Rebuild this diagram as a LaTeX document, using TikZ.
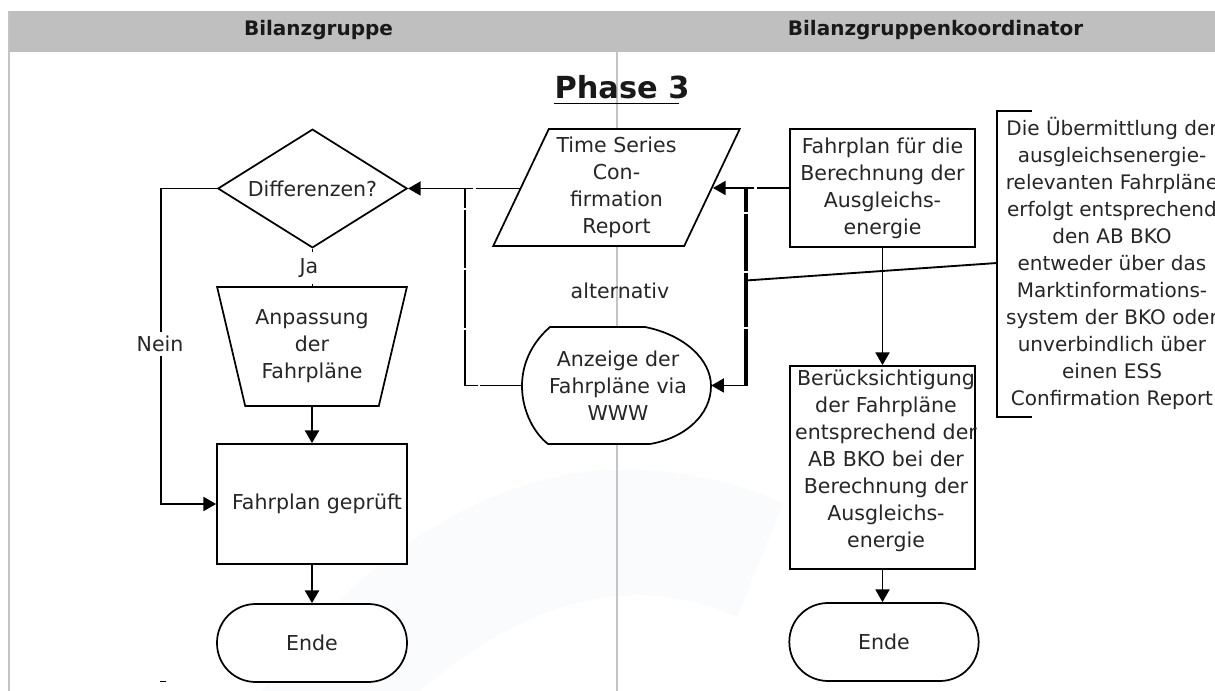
\documentclass[tikz,border=0pt]{standalone}
\usepackage{fontspec}
\setmainfont{DejaVu Sans}
\usetikzlibrary{shapes.geometric,arrows.meta}
\definecolor{band}{HTML}{BFBFBF}
\definecolor{rule}{HTML}{C4C4C4}
\definecolor{ghost}{HTML}{FAFBFC}
\tikzset{
  x=0.75pt,y=-0.75pt,
  txt/.style={font=\fontsize{15.4}{20.25}\selectfont,text=black!85,align=center,inner sep=0pt},
  shp/.style={draw=black,line width=1.3pt,fill=white,inner sep=0pt,font=\fontsize{15.4}{20.25}\selectfont,text=black!85,align=center},
  flow/.style={draw=black,line width=1.4pt,-{Triangle[length=9.5pt,width=10.5pt]}},
  plain/.style={draw=black,line width=1.4pt},
  hdr/.style={font=\bfseries\fontsize{15}{18}\selectfont,text=black!90,inner sep=0pt},
}
\begin{document}
\begin{tikzpicture}
\useasboundingbox (0,0) rectangle (1215,691);
\fill[white] (0,0) rectangle (1215,691);
% watermark
\fill[ghost] (262,691) .. controls (330,590) and (470,470) .. (617,470) .. controls (680,468) and (735,482) .. (783,503) -- (737,617) .. controls (700,600) and (660,594) .. (633,595) .. controls (550,598) and (480,640) .. (420,691) -- cycle;
% swimlanes
\fill[band] (8,11) rectangle (1215,52);
\draw[rule,line width=1.5pt] (8.5,11) -- (8.5,691);
\draw[rule,line width=1.2pt] (617,52) -- (617,691);
\node[hdr] (h1) at (318.5,30) {Bilanzgruppe};
\node[hdr] (h2) at (935.5,30) {Bilanzgruppenkoordinator};
\node[font=\bfseries\fontsize{22.8}{26}\selectfont,text=black!90,inner sep=0pt] (title) at (622,87) {Phase 3};
\draw[black,line width=1.4pt] (554,103.5) -- (679,103.5);

% left column
\node[shp,diamond,minimum width=142pt,minimum height=89pt,aspect=1.6] (diff) at (312.5,188.5) {Differenzen?};
\node[shp,trapezium,trapezium stretches=true,shape border rotate=180,trapezium left angle=72,trapezium right angle=72,minimum width=142.5pt,minimum height=89.25pt] (anp) at (312,346.5) {Anpassung\\der\\Fahrpläne};
\node[shp,minimum width=142.5pt,minimum height=90pt] (gepr) at (312,504) {};
\node[txt] (geprt) at (317,504) {Fahrplan geprüft};
\node[shp,rounded corners=29pt,minimum width=142.5pt,minimum height=58.5pt] (ende1) at (312,643) {Ende};

% middle column
\node[shp,trapezium,trapezium stretches=true,trapezium left angle=64,trapezium right angle=116,minimum width=185pt,minimum height=87.75pt] (ts) at (616.5,187.5) {Time Series\\Con-\\firmation\\Report};
\node[txt] (alt) at (620,291) {alternativ};
\node[minimum width=141.75pt,minimum height=87.75pt,inner sep=0pt] (www) at (616.5,385.5) {};
\draw[draw=black,line width=1.3pt,fill=white] (550,327) -- (645,327) .. controls (685,335) and (711,360) .. (711,386) .. controls (711,415) and (685,438) .. (650,444) -- (548,444) .. controls (535,434) and (522,412) .. (522,386) .. controls (522,360) and (535,340) .. (550,327) -- cycle;
\node[txt] (wwwt) at (618,385.5) {Anzeige der\\Fahrpläne via\\WWW};

% right column
\node[shp,minimum width=138.75pt,minimum height=88.5pt] (fb) at (882.5,188) {Fahrplan für die\\Berechnung der\\Ausgleichs-\\energie};
\node[shp,minimum width=138.75pt,minimum height=152.25pt] (bk) at (882.5,467.5) {};
\node[txt] (bkt) at (886,461) {Berücksichtigung\\der Fahrpläne\\entsprechend der\\AB BKO bei der\\Berechnung der\\Ausgleichs-\\energie};
\node[shp,rounded corners=29pt,minimum width=142pt,minimum height=58.5pt] (ende2) at (884,642) {Ende};

% annotation
\node[txt,font=\fontsize{15}{20.25}\selectfont] (note) at (1112,263) {Die Übermittlung der\\ausgleichsenergie-\\relevanten Fahrpläne\\erfolgt entsprechend\\den AB BKO\\entweder über das\\Marktinformations-\\system der BKO oder\\unverbindlich über\\einen ESS\\Confirmation Report};
\coordinate (brtop) at (1032,111);
\coordinate (brbot) at (1032,417);
\coordinate (brmid) at (997,263);
\coordinate (jn) at (746,280.5);
\draw[plain] (brtop) -- (997,111) -- (997,417) -- (brbot);

% connectors
\draw[flow,dash pattern=on 33pt off 2pt on 200pt] (ts.left side |- diff.east) -- (diff.east);
\draw[plain,dash pattern=on 31pt off 2pt on 51pt off 2pt on 43pt off 2pt on 43pt off 2pt on 100pt] (www.west) -- (465,385.5) -- (465,188.5);
\draw[flow,dash pattern=on 24pt off 2pt on 200pt] (fb.west) -- (ts.right side |- fb.west);
\draw[black,line width=2.6pt,dash pattern=on 18pt off 1.5pt on 43pt off 1.5pt on 40pt off 1.5pt on 200pt] (746,188) -- (746,386);
\draw[flow] (746,385.5) -- (www.east);
\draw[plain] (brmid) -- (jn);
\draw[flow] (fb.south) -- (fb.south |- bk.north);
\draw[flow] (bk.south) -- (bk.south |- ende2.north);
\draw[plain] (diff.south) -- (diff.south |- anp.north);
\node[txt,fill=white,inner ysep=5pt,inner xsep=5pt] (ja) at (309,268) {Ja};
\draw[flow] (anp.south) -- (gepr.north);
\draw[flow] (gepr.south) -- (ende1.north);
\draw[flow] (diff.west) -- (161,188.5) -- (161,504) -- (gepr.west);
\node[txt,fill=white,inner ysep=3pt,inner xsep=1pt] (nein) at (160,344) {Nein};
\coordinate (ma) at (160,681.5); \coordinate (mb) at (166,681.5);
\draw[plain] (ma) -- (mb);
\end{tikzpicture}
\end{document}
